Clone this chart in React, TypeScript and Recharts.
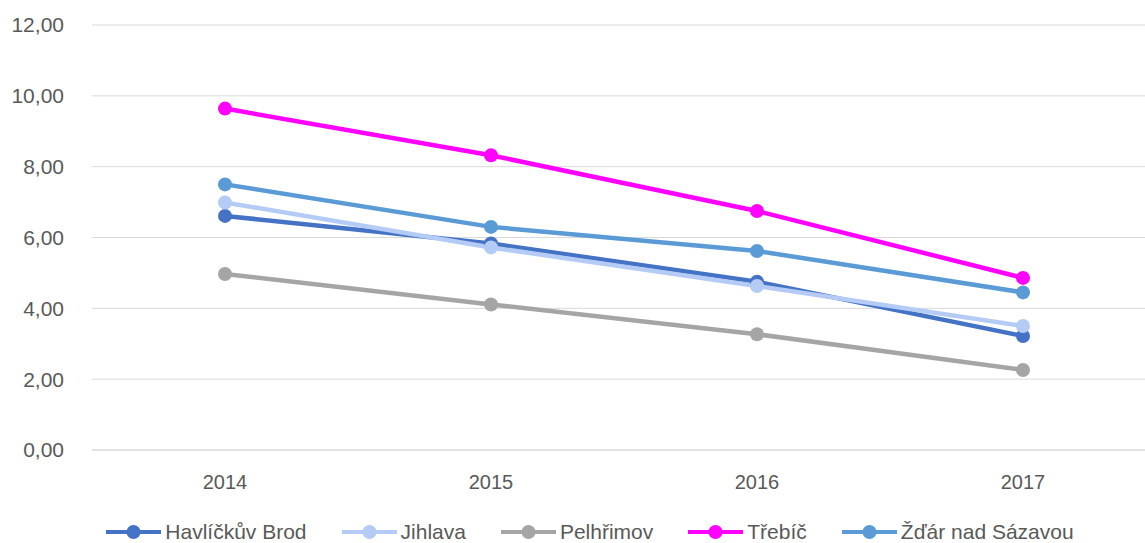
import React from 'react';
import { LineChart, Line, XAxis, YAxis, CartesianGrid, Legend } from 'recharts';

const years = ['2014', '2015', '2016', '2017'];
const havlickuvBrod = [6.61, 5.83, 4.75, 3.22];
const jihlava = [6.99, 5.72, 4.63, 3.5];
const pelhrimov = [4.97, 4.11, 3.27, 2.26];
const trebic = [9.64, 8.32, 6.75, 4.86];
const zdar = [7.5, 6.3, 5.62, 4.45];
const yTicks = [0, 2, 4, 6, 8, 10, 12];

const series = [
  { key: 'hb', name: 'Havlíčkův Brod', values: havlickuvBrod, color: '#4472C4' },
  { key: 'ji', name: 'Jihlava', values: jihlava, color: '#B4CBF5' },
  { key: 'pe', name: 'Pelhřimov', values: pelhrimov, color: '#A5A5A5' },
  { key: 'tr', name: 'Třebíč', values: trebic, color: '#FF00FF' },
  { key: 'zd', name: 'Žďár nad Sázavou', values: zdar, color: '#5B9BD5' },
];

const data = years.map((y, i) => {
  const row: Record<string, string | number> = { year: y };
  series.forEach((s) => {
    row[s.key] = s.values[i];
  });
  return row;
});

const FONT = '"Liberation Sans", Arial, sans-serif';
const TEXT = '#595959';

const renderLegend = () => (
  <div
    style={{
      display: 'flex',
      justifyContent: 'center',
      alignItems: 'center',
      gap: 35,
      height: 22,
      paddingLeft: 24,
      fontFamily: FONT,
      fontSize: 21,
      lineHeight: '22px',
      color: TEXT,
      whiteSpace: 'nowrap',
    }}
  >
    {series.map((s) => (
      <div key={s.key} style={{ display: 'flex', alignItems: 'center' }}>
        <svg width={55} height={16} style={{ marginRight: 4 }}>
          <line x1={0} y1={8} x2={55} y2={8} stroke={s.color} strokeWidth={4} />
          <circle cx={27.5} cy={8} r={7} fill={s.color} />
        </svg>
        <span>{s.name}</span>
      </div>
    ))}
  </div>
);

export default function App() {
  return (
    <div
      style={{
        position: 'absolute',
        left: 0,
        top: 0,
        width: 1145,
        height: 543,
        overflow: 'hidden',
        background: '#fff',
      }}
    >
      <LineChart width={1160} height={543} data={data} margin={{ top: 25, right: 4, left: 0, bottom: 0 }}>
        <CartesianGrid horizontal vertical={false} stroke="#D9D9D9" strokeWidth={1} />
        <XAxis
          dataKey="year"
          height={71}
          padding={{ left: 133, right: 133 }}
          axisLine={{ stroke: '#D9D9D9' }}
          tickLine={false}
          tickMargin={19}
          tick={{ fill: TEXT, fontSize: 20, fontFamily: FONT }}
        />
        <YAxis
          width={92}
          domain={[0, 12]}
          ticks={yTicks}
          axisLine={false}
          tickLine={false}
          tickMargin={22}
          tickFormatter={(v: number) => v.toFixed(2).replace('.', ',')}
          tick={{ fill: TEXT, fontSize: 21, fontFamily: FONT }}
        />
        <Legend verticalAlign="bottom" content={renderLegend} />
        {series.map((s) => (
          <Line
            key={s.key}
            dataKey={s.key}
            name={s.name}
            stroke={s.color}
            strokeWidth={4.5}
            dot={{ r: 7, fill: s.color, stroke: s.color, strokeWidth: 0 }}
            activeDot={false}
            isAnimationActive={false}
          />
        ))}
      </LineChart>
    </div>
  );
}
